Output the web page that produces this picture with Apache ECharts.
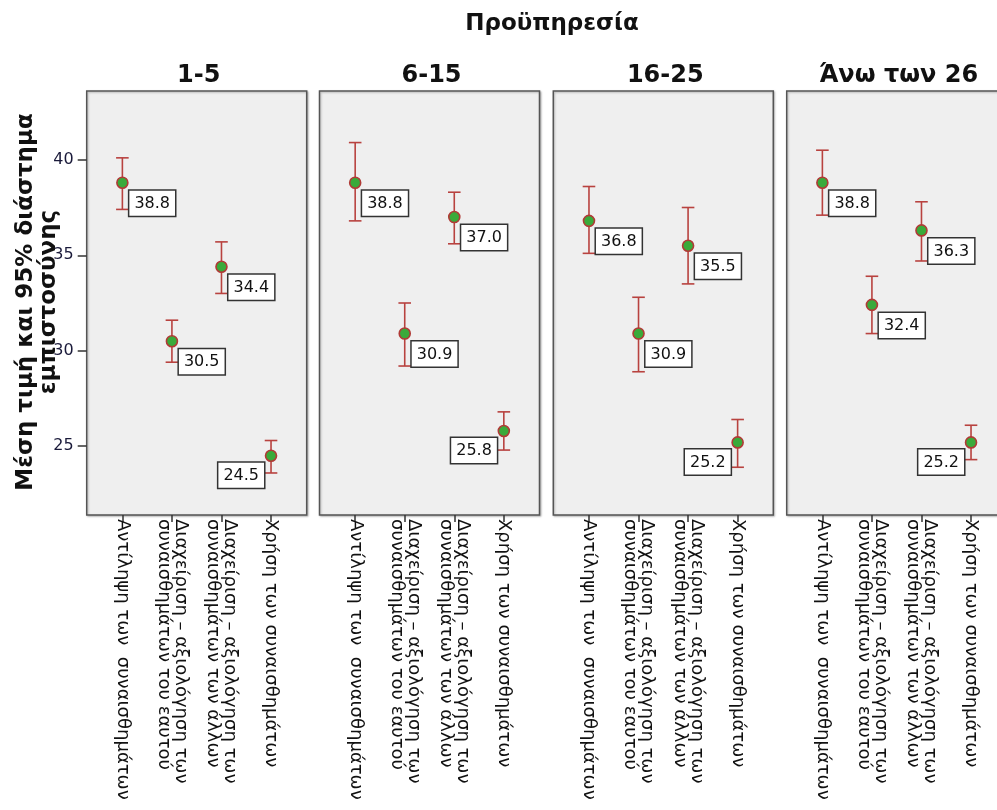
<!DOCTYPE html>
<html>
<head>
<meta charset="utf-8">
<script src="https://cdn.jsdelivr.net/npm/echarts@6/dist/echarts.min.js"></script>
<style>html,body{margin:0;padding:0;background:#fff}#c{width:997px;height:810px}</style>
</head>
<body>
<div id="c"></div>
<script>
const mainTitle = "Προϋπηρεσία";
const yTitle = "Μέση τιμή και 95% διάστημα\nεμπιστοσύνης";
const panels = ["1-5", "6-15", "16-25", "Άνω των 26"];
const categories = [
  "Αντίληψη των  συναισθημάτων",
  "Διαχείριση – αξιολόγηση των\nσυναισθημάτων του εαυτού",
  "Διαχείριση – αξιολόγηση των\nσυναισθημάτων των άλλων",
  "Χρήση των συναισθημάτων"
];
const yTicks = [25, 30, 35, 40];
const means_1_5   = [38.8, 30.5, 34.4, 24.5];
const lower_1_5   = [37.4, 29.4, 33.0, 23.6];
const upper_1_5   = [40.1, 31.6, 35.7, 25.3];
const means_6_15  = [38.8, 30.9, 37.0, 25.8];
const lower_6_15  = [36.8, 29.2, 35.6, 24.8];
const upper_6_15  = [40.9, 32.5, 38.3, 26.8];
const means_16_25 = [36.8, 30.9, 35.5, 25.2];
const lower_16_25 = [35.1, 28.9, 33.5, 23.9];
const upper_16_25 = [38.6, 32.8, 37.5, 26.4];
const means_26    = [38.8, 32.4, 36.3, 25.2];
const lower_26    = [37.1, 30.9, 34.7, 24.3];
const upper_26    = [40.5, 33.9, 37.8, 26.1];

const panelData = [
  [means_1_5, lower_1_5, upper_1_5],
  [means_6_15, lower_6_15, upper_6_15],
  [means_16_25, lower_16_25, upper_16_25],
  [means_26, lower_26, upper_26]
];

const FONT = "DejaVu Sans";
const gridLefts = [86.7, 319.5, 553.3, 786.7];
const GW = 220, GTOP = 91, GH = 424;
const YMIN = 21.4, YMAX = 43.6;

const grids = [], xAxes = [], yAxes = [], series = [], titles = [];
titles.push({text: mainTitle, left: 547, top: 8, textAlign: 'center',
  textStyle: {fontFamily: FONT, fontSize: 23, fontWeight: 'bold', color: '#111'}});
panels.forEach((p, i) => {
  titles.push({text: p, left: gridLefts[i] + GW/2 - 3, top: 59, textAlign: 'center',
    textStyle: {fontFamily: FONT, fontSize: 24, fontWeight: 'bold', color: '#111'}});
  grids.push({left: gridLefts[i], top: GTOP, width: GW, height: GH, show: true,
    outerBoundsMode: 'none', containLabel: false,
    backgroundColor: '#efefef', borderColor: '#555', borderWidth: 1.5,
    shadowColor: 'rgba(0,0,0,0.25)', shadowBlur: 2, shadowOffsetX: 1, shadowOffsetY: 1});
  xAxes.push({type: 'value', gridIndex: i, min: -0.72, max: 3.72,
    axisLine: {show: false, onZero: false}, splitLine: {show: false},
    axisTick: {show: true, customValues: [0,1,2,3], length: 7, lineStyle: {color: '#333', width: 1.5}},
    axisLabel: {show: true, customValues: [0,1,2,3], rotate: -90, margin: 4,
      fontFamily: FONT, fontSize: 18, lineHeight: 17, color: '#111',
      formatter: v => categories[Math.round(v)]}});
  yAxes.push({type: 'value', gridIndex: i, min: YMIN, max: YMAX,
    axisLine: {show: false, onZero: false}, splitLine: {show: false},
    axisTick: {show: i === 0, customValues: yTicks, length: 9, lineStyle: {color: '#333', width: 1.5}},
    axisLabel: {show: i === 0, customValues: yTicks, margin: 13,
      fontFamily: FONT, fontSize: 16, color: '#1a1a3a'}});
  const [m, lo, hi] = panelData[i];
  series.push({
    type: 'custom', xAxisIndex: i, yAxisIndex: i,
    data: m.map((v, k) => [k, v, lo[k], hi[k]]),
    renderItem: function (params, api) {
      const k = api.value(0);
      const p = api.coord([k, api.value(1)]);
      const pl = api.coord([k, api.value(2)]);
      const ph = api.coord([k, api.value(3)]);
      const ec = '#b8423f', cw = 6.3;
      const last = k === 3;
      return {type: 'group', children: [
        {type: 'line', shape: {x1: p[0], y1: ph[1], x2: p[0], y2: pl[1]}, style: {stroke: ec, lineWidth: 1.6}},
        {type: 'line', shape: {x1: p[0]-cw, y1: ph[1], x2: p[0]+cw, y2: ph[1]}, style: {stroke: ec, lineWidth: 1.6}},
        {type: 'line', shape: {x1: p[0]-cw, y1: pl[1], x2: p[0]+cw, y2: pl[1]}, style: {stroke: ec, lineWidth: 1.6}},
        {type: 'circle', shape: {cx: p[0], cy: p[1], r: 5.5}, style: {fill: '#3aaa3a', stroke: '#b03a36', lineWidth: 1.6}},
        {type: 'text', x: last ? p[0] - 7 : p[0] + 7, y: last ? p[1] + 7 : p[1] + 8,
          style: {text: api.value(1).toFixed(1), font: '16px "' + FONT + '"', fill: '#111',
            align: last ? 'right' : 'left', verticalAlign: 'top',
            backgroundColor: '#fff', borderColor: '#333', borderWidth: 1.5,
            padding: [4, 5, 3, 5], lineHeight: 18,
            boxShadowColor: 'rgba(0,0,0,0.3)', boxShadowBlur: 2, boxShadowOffsetX: 1, boxShadowOffsetY: 1}}
      ]};
    }
  });
});

const chart = echarts.init(document.getElementById('c'), null, {renderer: 'canvas'});
chart.setOption({
  animation: false,
  title: titles,
  grid: grids, xAxis: xAxes, yAxis: yAxes, series: series,
  graphic: [{type: 'text', x: 38, y: 302, rotation: Math.PI/2,
    style: {text: yTitle, font: 'bold 23px "' + FONT + '"', fill: '#111',
      align: 'center', verticalAlign: 'middle', lineHeight: 23}}]
});
</script>
</body>
</html>
